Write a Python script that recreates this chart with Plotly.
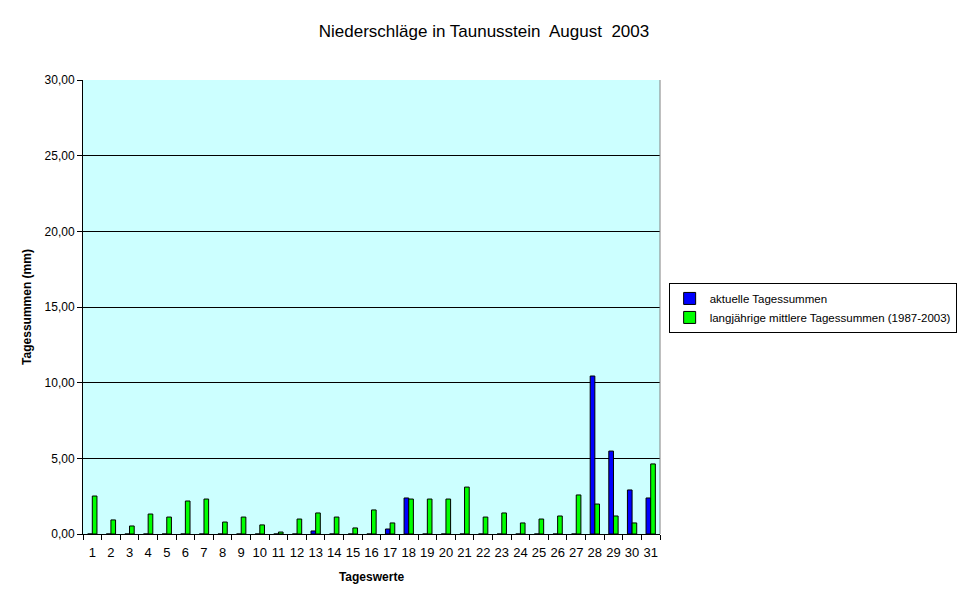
import plotly.graph_objects as go

days = [str(d) for d in range(1, 32)]

# aktuelle Tagessummen August 2003 (mm), only days with rain
aktuell = [0, 0, 0, 0, 0, 0, 0, 0, 0, 0, 0, 0, 0.2, 0, 0, 0,
           0.33, 2.38, 0, 0, 0, 0, 0, 0, 0, 0, 0, 10.44, 5.48, 2.91, 2.38]

# langjaehrige mittlere Tagessummen 1987-2003 (mm)
mittel = [2.51, 0.93, 0.53, 1.32, 1.12, 2.18, 2.31, 0.79, 1.12, 0.6,
          0.13, 0.99, 1.39, 1.12, 0.4, 1.59, 0.73, 2.31, 2.31, 2.31,
          3.1, 1.12, 1.39, 0.73, 0.99, 1.19, 2.58, 1.98, 1.19, 0.73, 4.63]

font = "Liberation Sans, Arial, sans-serif"

fig = go.Figure()
fig.add_trace(go.Bar(x=days, y=aktuell, name="aktuelle Tagessummen",
                     marker=dict(color="#0000FF", line=dict(color="black", width=1))))
fig.add_trace(go.Bar(x=days, y=mittel,
                     name="langjährige mittlere Tagessummen (1987-2003)",
                     marker=dict(color="#00FF00", line=dict(color="black", width=1))))

# page body adds an 8px margin, so the figure is a bit smaller
fig.update_layout(
    width=962, height=596,
    margin=dict(l=75, r=310, t=72, b=70, autoexpand=False),
    paper_bgcolor="white", plot_bgcolor="#CCFFFF",
    separators=",.",
    barmode="group", bargap=0.5, bargroupgap=0,
    font=dict(family=font, size=12, color="black"),
    title=dict(text="Niederschläge in Taunusstein  August  2003",
               x=476 / 962, xref="container", xanchor="center",
               y=1 - 23 / 596, yref="container", yanchor="middle",
               font=dict(size=17)),
    legend=dict(x=1.015, y=0.553, xanchor="left", yanchor="top",
                bordercolor="black", borderwidth=1, bgcolor="white",
                font=dict(size=11.5), tracegroupgap=0, itemwidth=30),
    showlegend=True,
)

fig.update_xaxes(type="category", showline=True, linecolor="black", linewidth=1,
                 ticks="outside", tickson="boundaries", ticklen=5, tickcolor="black",
                 tickangle=0, automargin=False, showgrid=False,
                 tickfont=dict(size=13), ticklabelstandoff=6,
                 title=dict(text="<b>Tageswerte</b>", font=dict(size=12), standoff=14))
fig.update_yaxes(range=[0, 30], dtick=5, tickformat=".2f",
                 showline=True, linecolor="black", linewidth=1,
                 ticks="outside", ticklen=5, tickcolor="black", automargin=False,
                 showgrid=True, gridcolor="black", gridwidth=1, zeroline=False,
                 title=dict(text="<b>Tagessummen (mm)</b>", font=dict(size=12), standoff=10))

fig.add_shape(type="line", xref="paper", yref="paper", x0=1, x1=1, y0=0, y1=1,
              line=dict(color="gray", width=1))

fig.write_html("out.html")
